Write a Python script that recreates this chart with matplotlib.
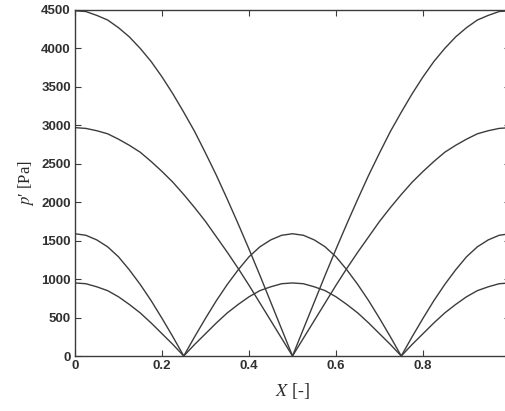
import numpy as np
import matplotlib
matplotlib.use("Agg")
import matplotlib.pyplot as plt

# values, X step 0.025
x = np.linspace(0, 1, 41)

p_4500 = [4490, 4480, 4430, 4370, 4270, 4150, 4000, 3830, 3630, 3410, 3170,
          2920, 2640, 2350, 2040, 1720, 1390, 1050, 700, 350, 0,
          350, 700, 1050, 1390, 1720, 2040, 2350, 2640, 2920, 3170,
          3410, 3630, 3830, 4000, 4150, 4270, 4370, 4430, 4480, 4490]

p_3000 = [2970, 2960, 2930, 2890, 2820, 2740, 2650, 2530, 2400, 2260, 2100,
          1930, 1750, 1550, 1350, 1140, 920, 690, 460, 230, 0,
          230, 460, 690, 920, 1140, 1350, 1550, 1750, 1930, 2100,
          2260, 2400, 2530, 2650, 2740, 2820, 2890, 2930, 2960, 2970]

p_1600 = [1590, 1570, 1510, 1420, 1290, 1120, 930, 720, 490, 250, 0,
          250, 490, 720, 930, 1120, 1290, 1420, 1510, 1570, 1590,
          1570, 1510, 1420, 1290, 1120, 930, 720, 490, 250, 0,
          250, 490, 720, 930, 1120, 1290, 1420, 1510, 1570, 1590]

p_950 = [950, 940, 900, 850, 770, 670, 560, 430, 290, 150, 0,
         150, 290, 430, 560, 670, 770, 850, 900, 940, 950,
         940, 900, 850, 770, 670, 560, 430, 290, 150, 0,
         150, 290, 430, 560, 670, 770, 850, 900, 940, 950]

xticks = [0, 0.2, 0.4, 0.6, 0.8]
xticklabels = ["0", "0.2", "0.4", "0.6", "0.8"]
yticks = [0, 500, 1000, 1500, 2000, 2500, 3000, 3500, 4000, 4500]

plt.rcParams["mathtext.fontset"] = "stix"
ink = "#3c3c3c"

fig = plt.figure(figsize=(5.05, 4.11), dpi=100)
ax = fig.add_axes([75 / 505, 55 / 411, 435 / 505, 346 / 411])

for p in [p_4500, p_3000, p_1600, p_950]:
    ax.plot(x, p, color=ink, lw=1.0)

ax.set_xlim(0, 1)
ax.set_ylim(0, 4500)
ax.set_xticks(xticks)
ax.set_xticklabels(xticklabels)
ax.set_yticks(yticks)
ax.tick_params(direction="in", top=True, right=True, length=4, width=0.8,
               color=ink, labelcolor="#303030", labelsize=9.5, pad=3)
for lab in ax.get_xticklabels() + ax.get_yticklabels():
    lab.set_family("Liberation Sans")
    lab.set_weight("bold")
for s in ax.spines.values():
    s.set_color(ink)
    s.set_linewidth(1.0)

ax.set_xlabel("$X$ [-]", fontsize=13, family="Liberation Serif", color="#2a2a2a", labelpad=6)
ax.set_ylabel("$p$\u2032 [Pa]", fontsize=12, family="Liberation Serif", color="#2a2a2a", labelpad=4)

fig.savefig("out.png", dpi=100)
